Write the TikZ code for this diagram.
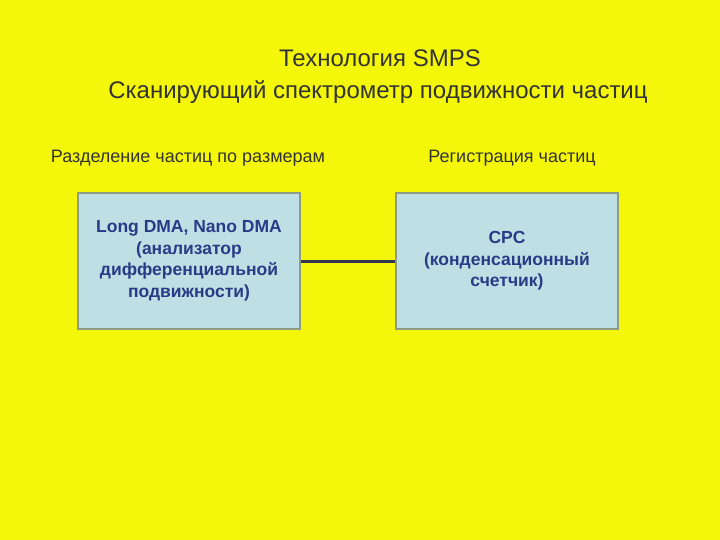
\documentclass[tikz,border=0pt]{standalone}
\usepackage{fontspec}
\setmainfont{Liberation Sans}
\definecolor{bgyellow}{HTML}{F5F70A}
\definecolor{boxfill}{HTML}{BEDFE3}
\definecolor{boxline}{HTML}{8E9C86}
\definecolor{navy}{HTML}{2B3A86}
\definecolor{titlegray}{HTML}{333333}
\definecolor{linkcol}{HTML}{33384F}
\begin{document}
\begin{tikzpicture}[x=1pt,y=-1pt,
  titletext/.style={text=titlegray,font=\fontsize{24}{28}\selectfont,inner sep=0pt},
  subtext/.style={text=titlegray,font=\fontsize{18}{22}\selectfont,inner sep=0pt},
  devbox/.style={draw=boxline,line width=1.8pt,fill=boxfill,minimum width=222pt,minimum height=136pt,
     text=navy,font=\bfseries\fontsize{17.5}{21.5}\selectfont,align=center,inner sep=0pt},
  link/.style={draw=linkcol,line width=3pt}]
\fill[bgyellow] (0,0) rectangle (720,540);
\useasboundingbox (0,0) rectangle (720,540);
\node[titletext] (t1) at (380,58) {Технология SMPS};
\node[titletext] (t2) at (378,92) {Сканирующий спектрометр подвижности частиц};
\node[subtext] (s1) at (188,158) {Разделение частиц по размерам};
\node[subtext] (s2) at (512,158) {Регистрация частиц};
\node[devbox] (b1) at (189,261) {Long DMA, Nano DMA\\(анализатор\\дифференциальной\\подвижности)};
\node[devbox] (b2) at (507,261) {CPC\\(конденсационный\\счетчик)};
\draw[link] (b1.east) -- (b2.west);
\end{tikzpicture}
\end{document}
